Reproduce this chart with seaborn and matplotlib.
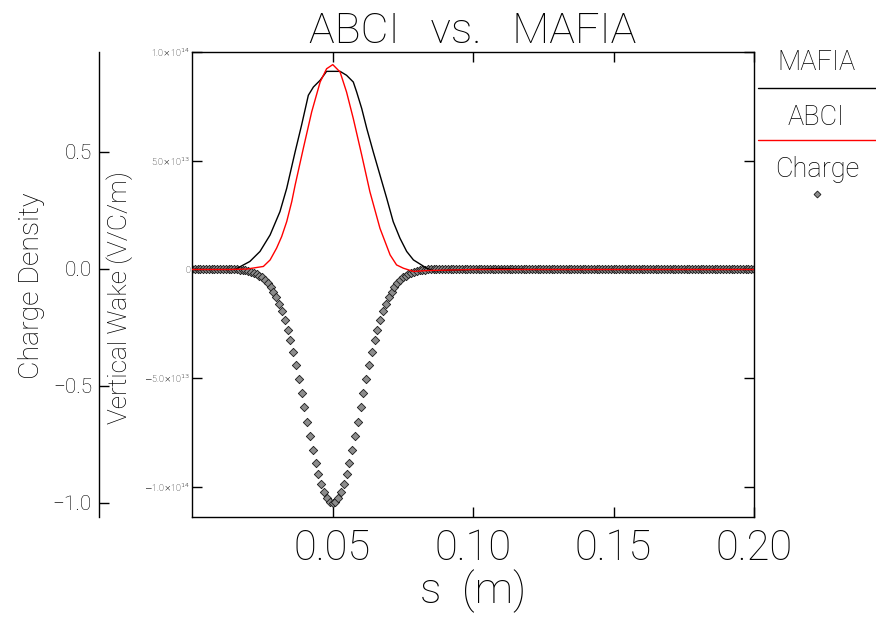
import numpy as np
import pandas as pd
import matplotlib
matplotlib.use("Agg")
import matplotlib.pyplot as plt
from matplotlib.lines import Line2D
import seaborn as sns

# ---------------- data ----------------
mafia_s = [0.0, 0.0100, 0.0153, 0.0206, 0.0242, 0.0278, 0.0313, 0.0337, 0.0367,
           0.0390, 0.0414, 0.0432, 0.0456, 0.0479, 0.0527, 0.0550, 0.0574, 0.0586,
           0.0604, 0.0622, 0.0645, 0.0669, 0.0693, 0.0716, 0.0740, 0.0764, 0.0788,
           0.0835, 0.0859, 0.100, 0.110, 0.120, 0.150, 0.200]
mafia_wake = [0.0, 0.0, 0.0, 0.37e13, 0.83e13, 1.59e13, 2.66e13, 3.73e13, 5.41e13,
              6.64e13, 8.01e13, 8.39e13, 8.70e13, 9.11e13, 9.11e13, 8.93e13, 8.62e13, 8.16e13,
              7.40e13, 6.48e13, 5.41e13, 4.34e13, 3.27e13, 2.20e13, 1.44e13, 0.83e13, 0.44e13,
              0.06e13, -0.06e13, 0.0, 0.05e13, 0.0, 0.0, 0.0]

abci_s = [0.0, 0.0135, 0.0195, 0.0254, 0.0278, 0.0301, 0.0319, 0.0337, 0.0355, 0.0367,
          0.0396, 0.0426, 0.0456, 0.0479, 0.0501, 0.0527, 0.0550, 0.0574, 0.0604,
          0.0633, 0.0669, 0.0705, 0.0728, 0.0752, 0.0788, 0.0835, 0.100, 0.150, 0.200]
abci_wake = [0.0, 0.0, 0.02e13, 0.14e13, 0.44e13, 0.98e13, 1.51e13, 2.20e13, 3.12e13, 3.88e13,
             5.56e13, 7.25e13, 8.62e13, 9.23e13, 9.42e13, 9.08e13, 8.16e13, 6.94e13, 5.26e13,
             3.58e13, 1.89e13, 0.67e13, 0.21e13, 0.06e13, -0.09e13, -0.05e13, 0.0, 0.0, 0.0]

charge_s = np.round(np.linspace(0.0, 0.2, 201), 3)
charge_left = [-0.002, -0.002, -0.003, -0.005, -0.006, -0.009, -0.012, -0.016, -0.022,
               -0.029, -0.037, -0.048, -0.062, -0.079, -0.098, -0.122, -0.150, -0.182,
               -0.219, -0.261, -0.306, -0.356, -0.411, -0.469, -0.530, -0.591, -0.653,
               -0.714, -0.773, -0.828, -0.877, -0.919, -0.954, -0.979, -0.995]
charge_peak = [-1.000]
charge_right = [-0.995, -0.979, -0.954, -0.919, -0.877, -0.828, -0.773, -0.714, -0.653,
                -0.591, -0.530, -0.469, -0.411, -0.356, -0.306, -0.261, -0.219, -0.182,
                -0.150, -0.122, -0.098, -0.079, -0.062, -0.048, -0.037, -0.029, -0.022,
                -0.016, -0.012, -0.009, -0.006, -0.005, -0.003, -0.002, -0.002]
charge_density = [0.0] * 15 + charge_left + charge_peak + charge_right + [0.0] * 115

x_ticks = [0.05, 0.10, 0.15, 0.20]
x_tick_labels = ["0.05", "0.10", "0.15", "0.20"]
wake_ticks = [1.0e14, 5.0e13, 0.0, -5.0e13, -1.0e14]
wake_tick_labels = [r"1.0$\times$10$^{14}$", r"5.0$\times$10$^{13}$", "0",
                    r"$-$5.0$\times$10$^{13}$", r"$-$1.0$\times$10$^{14}$"]
charge_ticks = [0.5, 0.0, -0.5, -1.0]
charge_tick_labels = ["0.5", "0.0", "\u22120.5", "\u22121.0"]
legend_labels = ["MAFIA", "ABCI", "Charge"]

mafia_df = pd.DataFrame({"s": mafia_s, "wake": mafia_wake})
abci_df = pd.DataFrame({"s": abci_s, "wake": abci_wake})
charge_df = pd.DataFrame({"s": charge_s, "density": charge_density})

# ---------------- figure ----------------
sns.set_theme(style="ticks")
plt.rcParams["font.family"] = ["Roboto", "DejaVu Sans"]
plt.rcParams["font.weight"] = "light"
plt.rcParams["axes.titleweight"] = "light"
plt.rcParams["axes.labelweight"] = "light"
plt.rcParams["mathtext.fontset"] = "dejavusans"
for key in ("text.color", "axes.labelcolor", "xtick.color", "ytick.color"):
    plt.rcParams[key] = "black"

W, H = 876, 618
fig = plt.figure(figsize=(W / 100, H / 100), dpi=100)
fig.patch.set_facecolor("white")
ax = fig.add_axes([192 / W, 1 - 517 / H, 562 / W, 465 / H])
ax2 = ax.twinx()

# charge on secondary axis (drawn underneath the wake lines)
sns.scatterplot(data=charge_df, x="s", y="density", ax=ax2, marker="D", s=18,
                color="#8c8c8c", edgecolor="#1a1a1a", linewidth=0.6, legend=False,
                zorder=2)

sns.lineplot(data=mafia_df, x="s", y="wake", ax=ax, color="black", linewidth=1.0,
             estimator=None, sort=False, legend=False, zorder=3)
sns.lineplot(data=abci_df, x="s", y="wake", ax=ax, color="#ff0000", linewidth=1.0,
             estimator=None, sort=False, legend=False, zorder=4)

ax.set_zorder(ax2.get_zorder() + 1)
ax.patch.set_visible(False)

# main axis
ax.set_xlim(0.0, 0.2)
ax.set_ylim(-1.138e14, 1.0e14)
ax.set_xticks(x_ticks)
ax.set_xticklabels(x_tick_labels)
ax.set_yticks(wake_ticks)
ax.set_yticklabels(wake_tick_labels)
ax.tick_params(axis="both", direction="in", length=7, width=1.0, color="black",
               top=True, right=True)
ax.tick_params(axis="x", labelsize=30, pad=8)
ax.tick_params(axis="y", labelsize=6.5, pad=1.5)
for sp in ax.spines.values():
    sp.set_color("black")
    sp.set_linewidth(1.0)
    sp.set_visible(True)
ax.set_xlabel("s  (m)", fontsize=31, fontweight="light", labelpad=0)
ax.set_ylabel("Vertical Wake (V/C/m)", fontsize=19, fontweight="light")
ax.yaxis.set_label_coords((133 - 192) / 562, (517 - 298) / 465)
ax.set_title("ABCI   vs.   MAFIA", fontsize=31, fontweight="light", pad=6)

# secondary (charge density) axis on the far left
ax2.set_ylim(-1.06, 0.926)
ax2.spines["left"].set_visible(True)
ax2.spines["left"].set_position(("axes", -93 / 562))
ax2.spines["left"].set_color("black")
ax2.spines["left"].set_linewidth(1.0)
for k in ("right", "top", "bottom"):
    ax2.spines[k].set_visible(False)
ax2.yaxis.set_ticks_position("left")
ax2.yaxis.set_label_position("left")
ax2.set_yticks(charge_ticks)
ax2.set_yticklabels(charge_tick_labels)
ax2.tick_params(axis="y", direction="in", length=7, width=1.0, color="black",
                labelsize=15, pad=5)
ax2.set_ylabel("Charge Density", fontsize=20.5, fontweight="light")
ax2.yaxis.set_label_coords((45 - 192) / 562, (517 - 286) / 465)
ax2.set_xlabel("")

# legend on the right
fig.text(816 / W, 1 - 70 / H, legend_labels[0], fontsize=19.5, ha="center", va="baseline")
fig.add_artist(Line2D([758 / W, 876 / W], [1 - 88 / H, 1 - 88 / H], color="black",
                      linewidth=1.0, transform=fig.transFigure))
fig.text(816 / W, 1 - 125 / H, legend_labels[1], fontsize=19.5, ha="center", va="baseline")
fig.add_artist(Line2D([758 / W, 876 / W], [1 - 140 / H, 1 - 140 / H], color="#ff0000",
                      linewidth=1.0, transform=fig.transFigure))
fig.text(817 / W, 1 - 177 / H, legend_labels[2], fontsize=19.5, ha="center", va="baseline")
fig.add_artist(Line2D([817 / W], [1 - 194 / H], marker="D", markersize=3.5,
                      markerfacecolor="#8c8c8c", markeredgecolor="#1a1a1a",
                      markeredgewidth=0.6, linestyle="none", transform=fig.transFigure))

fig.savefig("out.png", dpi=100, facecolor="white")
